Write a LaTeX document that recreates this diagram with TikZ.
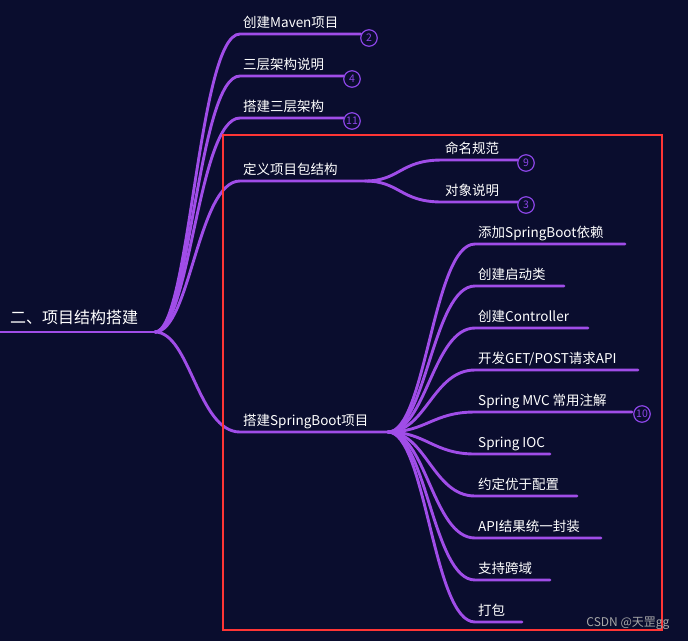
\documentclass[tikz,border=0pt]{standalone}
\usepackage{fontspec}
\setmainfont{Noto Sans CJK SC}
\usetikzlibrary{calc,positioning}

\definecolor{bgnavy}{HTML}{0A0D2E}
\definecolor{branch}{HTML}{A04DE8}
\definecolor{badge}{HTML}{8B45E6}
\definecolor{frame}{HTML}{FF3535}
\definecolor{mark}{HTML}{A8A8A8}

\tikzset{
  topic/.style={anchor=base west, text=white, inner sep=0pt, font=\fontsize{13.5}{15}\selectfont},
  link/.style={draw=branch, line width=2.9pt, line cap=round},
  count/.style={circle, draw=badge, line width=1.2pt, text=badge, minimum size=16.5pt, inner sep=0pt, font=\fontsize{10.5}{10}\selectfont},
}

\begin{document}
\begin{tikzpicture}[x=1pt,y=-1pt]
\useasboundingbox[fill=bgnavy] (0,0) rectangle (688,641);

% root topic
\coordinate (rootstart) at (0,332);
\coordinate (root) at (155,332);
\node[topic, font=\fontsize{16}{18}\selectfont] (roottext) at ($(rootstart)+(10,-9)$) {二、项目结构搭建};
\draw[link] (rootstart) -- (root);

% first level
\foreach \i/\y/\x/\txt in {1/34/361/创建Maven项目, 2/76/344/三层架构说明, 3/118/344/搭建三层架构, 4/181/365/定义项目包结构, 5/432/388/搭建SpringBoot项目} {
  \coordinate (top\i) at (240,\y);
  \coordinate (top\i-end) at (\x,\y);
  \draw[link] (root) .. controls ($(root)+(35,0)$) and ($(top\i)+(-42,0)$) .. (top\i) -- (top\i-end);
  \node[topic] (top\i-text) at ($(top\i)+(3,-6.5)$) {\txt};
}

\node[count] (badge1) at ($(top1-end)+(8,4)$) {2};
\node[count] (badge2) at ($(top2-end)+(8,3)$) {4};
\node[count] (badge3) at ($(top3-end)+(8,3)$) {11};

% package structure
\coordinate (pkg) at (top4-end);
\foreach \i/\y/\n/\txt in {1/160/9/命名规范, 2/202/3/对象说明} {
  \coordinate (pkg\i) at (442,\y);
  \coordinate (pkg\i-end) at (518,\y);
  \draw[link] (pkg) .. controls ($(pkg)+(35,0)$) and ($(pkg\i)+(-42,0)$) .. (pkg\i) -- (pkg\i-end);
  \node[topic] (pkg\i-text) at ($(pkg\i)+(3,-6.5)$) {\txt};
  \node[count] (pkg\i-badge) at ($(pkg\i-end)+(8,3)$) {\n};
}

% spring boot project
\coordinate (boot) at (top5-end);
\foreach \i/\y/\x/\txt in {1/244/625/添加SpringBoot依赖, 2/286/564/创建启动类, 3/328/588/创建Controller, 4/370/638/{开发GET/POST请求API}, 5/412/632/Spring MVC 常用注解, 6/454/550/Spring IOC, 7/496/577/约定优于配置, 8/538/601/API结果统一封装, 9/580/550/支持跨域, 10/622/522/打包} {
  \coordinate (boot\i) at (475,\y);
  \coordinate (boot\i-end) at (\x,\y);
  \draw[link] (boot) .. controls ($(boot)+(38,0)$) and ($(boot\i)+(-42,0)$) .. (boot\i) -- (boot\i-end);
  \node[topic] (boot\i-text) at ($(boot\i)+(3,-6.5)$) {\txt};
}
\node[count] (boot5-badge) at ($(boot5-end)+(10,2)$) {10};

% highlight frame
\draw[frame, line width=2.8pt] (223,135) rectangle (662,630);

\node[text=mark, font=\fontsize{12}{12}\selectfont, anchor=east] (watermark) at (673,623) {CSDN @天罡gg};
\end{tikzpicture}
\end{document}
